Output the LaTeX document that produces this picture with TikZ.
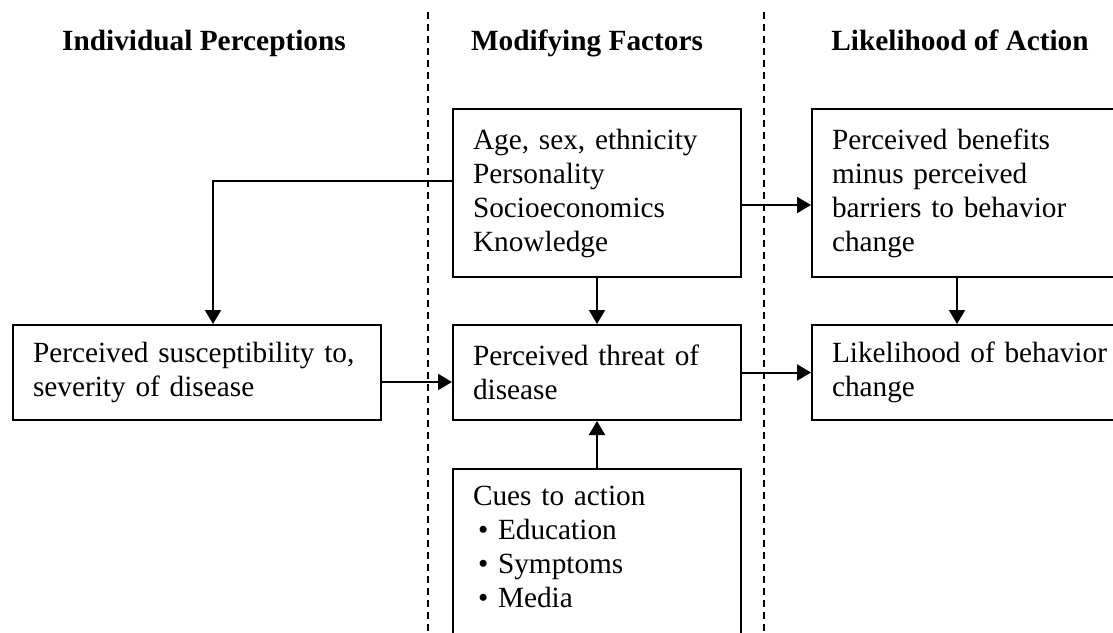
\documentclass[tikz,border=0pt]{standalone}
\usepackage{fontspec}
\setmainfont{Liberation Serif}
\usetikzlibrary{arrows.meta}
\tikzset{%
  >={Triangle[width=16pt,length=14pt]},
  % Specifications for style of nodes:
       heading/.style = {anchor=base, font=\fontsize{29.3}{34}\selectfont\bfseries},
        factor/.style = {rectangle, draw=black, line width=2pt, anchor=north west,
                         inner xsep=20pt, inner ysep=0pt, align=left,
                         font=\fontsize{29.3}{34}\selectfont},
         split/.style = {draw=black, line width=1.6pt, dash pattern=on 7pt off 5pt},
}

\begin{document}
\begin{tikzpicture}[x=1pt, y=-1pt, line width=2pt]
  \useasboundingbox (0,0) rectangle (1113,632);
  % Column headings and dividers

  \node (hindiv)   [heading] at (204,50) {Individual Perceptions};
  \node (hmod)     [heading] at (587,50) {Modifying Factors};
  \node (hlike)    [heading] at (960,50) {Likelihood of Action};
  \draw[split]     (427.7,12) -- (427.7,640);
  \draw[split]     (764,12) -- (764,640);

  % Specification of nodes (position, etc.)
  \node (age)      [factor, text width=248pt, minimum height=168pt] at (452,108)
                   {Age, sex, ethnicity\\Personality\\Socioeconomics\\Knowledge};
  \node (benefits) [factor, text width=289pt, minimum height=168pt] at (811,108)
                   {Perceived benefits\\minus perceived\\barriers to behavior\\change};
  \node (suscept)  [factor, text width=328pt, minimum height=95pt] at (12,324)
                   {Perceived susceptibility to,\\severity of disease};
  \node (threat)   [factor, text width=248pt, minimum height=95pt] at (452,324)
                   {Perceived threat of\\disease};
  \node (likely)   [factor, text width=289pt, minimum height=95pt] at (811,324)
                   {Likelihood of behavior\\change};
  \node (cues)     [factor, text width=248pt, inner ysep=17pt] at (452,468)
                   {Cues to action\\\hspace*{5pt}\textbullet\ Education\\\hspace*{5pt}\textbullet\ Symptoms\\\hspace*{5pt}\textbullet\ Media\rule[-45pt]{0pt}{45pt}};

  \draw[->]        ([yshift=12pt]age.west) -| ([xshift=16pt]suscept.north);
  \draw[->]        ([yshift=-12pt]age.east) -- ([yshift=-12pt]age.east -| benefits.west);
  \draw[->]        (age.south) -- (threat.north);
  \draw[->]        ([xshift=-19.5pt]benefits.south) -- ([xshift=-19.5pt]likely.north);
  \draw[->]        ([yshift=-9.5pt]suscept.east) -- ([yshift=-9.5pt]suscept.east -| threat.west);
  \draw[->]        (threat.east) -- (likely.west);
  \draw[->]        (cues.north) -- (threat.south);
\end{tikzpicture}
\end{document}
